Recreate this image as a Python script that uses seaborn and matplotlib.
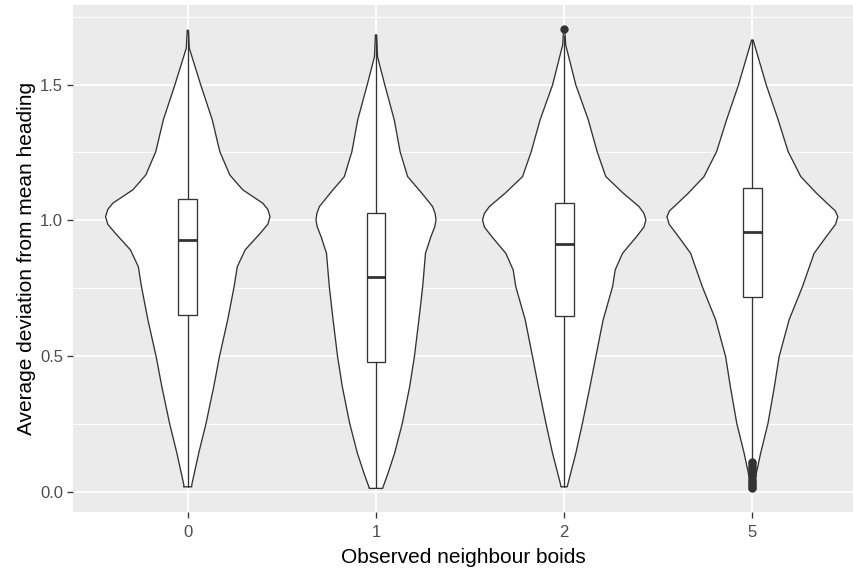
import numpy as np
import matplotlib
matplotlib.use('Agg')
import matplotlib.pyplot as plt
import seaborn as sns

# groups on the x axis
groups = ['0', '1', '2', '5']

# violin outlines: y level and half width (x units)
v0_y = [0.018, 0.025, 0.142, 0.252, 0.387, 0.497, 0.633, 0.755, 0.829, 0.891,
        0.952, 0.985, 1.013, 1.040, 1.063, 1.112, 1.167, 1.253, 1.370, 1.498,
        1.634, 1.700]
v0_w = [0.021, 0.021, 0.058, 0.097, 0.138, 0.168, 0.212, 0.246, 0.263, 0.305,
        0.385, 0.425, 0.437, 0.425, 0.398, 0.292, 0.223, 0.170, 0.130, 0.069,
        0.008, 0.003]

v1_y = [0.012, 0.068, 0.142, 0.252, 0.387, 0.497, 0.633, 0.755, 0.878, 0.940,
        0.975, 1.001, 1.025, 1.050, 1.100, 1.161, 1.253, 1.370, 1.498, 1.603,
        1.683]
v1_w = [0.035, 0.064, 0.099, 0.140, 0.179, 0.204, 0.228, 0.248, 0.263, 0.292,
        0.312, 0.319, 0.314, 0.301, 0.243, 0.168, 0.128, 0.097, 0.047, 0.008,
        0.003]

v2_y = [0.018, 0.142, 0.252, 0.387, 0.497, 0.633, 0.755, 0.817, 0.878, 0.940,
        0.975, 1.001, 1.025, 1.050, 1.100, 1.161, 1.253, 1.370, 1.498, 1.646,
        1.705]
v2_w = [0.016, 0.062, 0.097, 0.137, 0.168, 0.207, 0.257, 0.271, 0.310, 0.385,
        0.424, 0.434, 0.424, 0.398, 0.313, 0.221, 0.175, 0.128, 0.062, 0.008,
        0.003]

v5_y = [0.012, 0.142, 0.252, 0.387, 0.497, 0.633, 0.755, 0.878, 0.940, 0.985,
        1.013, 1.035, 1.050, 1.100, 1.161, 1.253, 1.370, 1.498, 1.664]
v5_w = [0.004, 0.044, 0.083, 0.117, 0.142, 0.195, 0.266, 0.328, 0.393, 0.442,
        0.454, 0.440, 0.416, 0.340, 0.257, 0.190, 0.137, 0.074, 0.004]

# box statistics
q1 = [0.650, 0.479, 0.646, 0.716]
med = [0.927, 0.789, 0.911, 0.957]
q3 = [1.078, 1.028, 1.064, 1.118]
whis_lo = [0.018, 0.012, 0.018, 0.117]
whis_hi = [1.700, 1.683, 1.680, 1.664]
outliers = [[], [], [1.705],
            [0.012, 0.018, 0.025, 0.032, 0.040, 0.048, 0.056, 0.064,
             0.072, 0.080, 0.088, 0.096, 0.104, 0.110]]

dark = '#333333'
sns.set_theme(style='darkgrid', rc={
    'axes.facecolor': '#EBEBEB',
    'grid.color': 'white',
    'axes.edgecolor': '#EBEBEB',
})
plt.rcParams['font.family'] = ['Liberation Sans', 'DejaVu Sans']

fig = plt.figure(figsize=(8.54, 5.69), dpi=100)
ax = fig.add_axes([73 / 854, 57 / 569, 1 - 73 / 854, 507 / 569])

violins = [(v0_y, v0_w), (v1_y, v1_w), (v2_y, v2_w), (v5_y, v5_w)]
for pos, (vy, vw) in enumerate(violins):
    vy = np.array(vy)
    vw = np.array(vw)
    ax.fill_betweenx(vy, pos - vw, pos + vw, facecolor='white',
                     edgecolor='none', zorder=2)
    xs = np.concatenate([pos - vw, (pos + vw)[::-1], [pos - vw[0]]])
    ys = np.concatenate([vy, vy[::-1], [vy[0]]])
    ax.plot(xs, ys, color=dark, lw=0.95, zorder=3)

stats = []
for i in range(len(groups)):
    stats.append({'med': med[i], 'q1': q1[i], 'q3': q3[i],
                  'whislo': whis_lo[i], 'whishi': whis_hi[i],
                  'fliers': outliers[i]})

ax.bxp(stats, positions=range(len(groups)), widths=0.1, patch_artist=True,
       showcaps=False, manage_ticks=False, zorder=4,
       boxprops=dict(facecolor='white', edgecolor=dark, lw=0.95),
       medianprops=dict(color=dark, lw=2.0),
       whiskerprops=dict(color=dark, lw=0.95),
       flierprops=dict(marker='o', markerfacecolor=dark, markeredgecolor=dark,
                       markersize=5))

ax.set_xlim(-0.61, 3.54)
ax.set_ylim(-0.075, 1.793)
ax.set_xticks(range(len(groups)))
ax.set_xticklabels(groups)
ax.set_yticks([0.0, 0.5, 1.0, 1.5])
ax.set_yticklabels(['0.0', '0.5', '1.0', '1.5'])
ax.set_yticks([0.25, 0.75, 1.25, 1.75], minor=True)
ax.grid(which='major', color='white', lw=1.3)
ax.grid(which='minor', axis='y', color='white', lw=0.65)
ax.set_axisbelow(True)
ax.tick_params(which='major', length=4.3, width=0.95, color=dark,
               labelcolor='#4D4D4D', labelsize=12, pad=2.8,
               bottom=True, left=True)
ax.tick_params(axis='x', which='major', pad=5)
ax.tick_params(which='minor', length=0)
for s in ax.spines.values():
    s.set_visible(False)

ax.set_xlabel('Observed neighbour boids', fontsize=15, color='black', labelpad=6)
ax.set_ylabel('Average deviation from mean heading', fontsize=15, color='black',
              labelpad=3)

fig.savefig('out.png', dpi=100)
